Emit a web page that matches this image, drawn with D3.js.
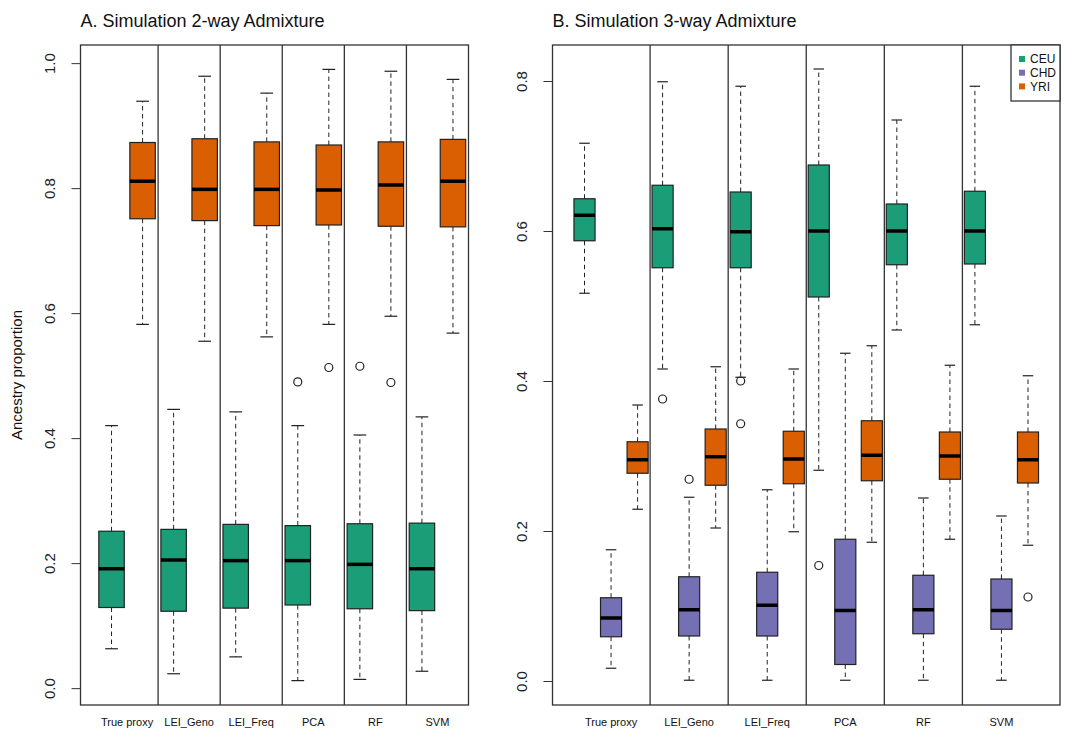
<!DOCTYPE html>
<html lang="en">
<head>
<meta charset="UTF-8">
<script src="https://d3js.org/d3.v7.min.js"></script>
<title>Ancestry proportion boxplots</title>
<style>
  body { margin: 0; background: #fff; }
  svg { display: block; font-family: "Liberation Sans", Arial, sans-serif; }
</style>
</head>
<body>
<svg width="1068" height="731"></svg>
<script>
// methods on the x axis (same for both panels)
var methods = ["True proxy", "LEI_Geno", "LEI_Freq", "PCA", "RF", "SVM"];
var yTicksA = [0, 0.2, 0.4, 0.6, 0.8, 1.0];
var yTicksB = [0, 0.2, 0.4, 0.6, 0.8];

// box stats: [lower whisker, Q1, median, Q3, upper whisker]
// panel A, 2-way admixture
var a_CEU = [
  [0.063, 0.129, 0.191, 0.251, 0.420],
  [0.023, 0.123, 0.205, 0.254, 0.446],
  [0.050, 0.128, 0.204, 0.262, 0.442],
  [0.012, 0.133, 0.204, 0.260, 0.420],
  [0.014, 0.127, 0.198, 0.263, 0.405],
  [0.027, 0.124, 0.191, 0.264, 0.434]
];
var a_YRI = [
  [0.582, 0.751, 0.811, 0.873, 0.939],
  [0.555, 0.748, 0.798, 0.879, 0.979],
  [0.562, 0.740, 0.798, 0.874, 0.952],
  [0.582, 0.741, 0.797, 0.869, 0.990],
  [0.595, 0.739, 0.805, 0.874, 0.987],
  [0.568, 0.738, 0.811, 0.878, 0.974]
];
var a_CEU_out = [[], [], [], [0.490], [0.515], []];
var a_YRI_out = [[], [], [], [0.513], [0.489], []];

// panel B, 3-way admixture
var b_CEU = [
  [0.517, 0.587, 0.621, 0.643, 0.717],
  [0.416, 0.551, 0.603, 0.661, 0.799],
  [0.405, 0.551, 0.599, 0.652, 0.793],
  [0.281, 0.512, 0.600, 0.688, 0.816],
  [0.468, 0.555, 0.600, 0.636, 0.748],
  [0.475, 0.556, 0.600, 0.653, 0.793]
];
var b_CHD = [
  [0.017, 0.059, 0.084, 0.111, 0.175],
  [0.001, 0.060, 0.095, 0.139, 0.245],
  [0.001, 0.060, 0.101, 0.145, 0.255],
  [0.001, 0.022, 0.094, 0.189, 0.437],
  [0.001, 0.063, 0.095, 0.141, 0.244],
  [0.001, 0.069, 0.094, 0.136, 0.220]
];
var b_YRI = [
  [0.229, 0.277, 0.295, 0.319, 0.368],
  [0.204, 0.261, 0.299, 0.336, 0.419],
  [0.199, 0.263, 0.296, 0.333, 0.416],
  [0.185, 0.267, 0.301, 0.347, 0.447],
  [0.189, 0.269, 0.300, 0.332, 0.421],
  [0.181, 0.264, 0.295, 0.332, 0.407]
];
var b_CEU_out = [[], [0.376], [0.400, 0.343], [0.154], [], []];
var b_CHD_out = [[], [0.269], [], [], [], []];
var b_YRI_out = [[], [], [], [], [], [0.112]];

var colors = { CEU: "#1b9e77", CHD: "#7570b3", YRI: "#d95f02" };

var svg = d3.select("svg");
svg.append("rect").attr("width", 1068).attr("height", 731).attr("fill", "#fff");

var plotTop = 45, plotBottom = 705;

var panels = [
  {
    title: "A. Simulation 2-way Admixture",
    left: 80.5, right: 468.5, xdom: [0.25, 6.5],
    ydom: [-0.027, 1.029], ticks: yTicksA,
    boxW: 0.41,
    series: [
      { name: "CEU", off: -0.25, stats: a_CEU, out: a_CEU_out },
      { name: "YRI", off: 0.25, stats: a_YRI, out: a_YRI_out }
    ]
  },
  {
    title: "B. Simulation 3-way Admixture",
    left: 552.5, right: 1060, xdom: [0.25, 6.75],
    ydom: [-0.032, 0.848], ticks: yTicksB,
    boxW: 0.27,
    series: [
      { name: "CEU", off: -0.34, stats: b_CEU, out: b_CEU_out },
      { name: "CHD", off: 0, stats: b_CHD, out: b_CHD_out },
      { name: "YRI", off: 0.34, stats: b_YRI, out: b_YRI_out }
    ]
  }
];

panels.forEach(function(p) {
  var x = d3.scaleLinear().domain(p.xdom).range([p.left, p.right]);
  var y = d3.scaleLinear().domain(p.ydom).range([plotBottom, plotTop]);
  var unit = x(1) - x(0);
  var g = svg.append("g");

  // title
  g.append("text")
    .attr("x", p.left).attr("y", 27)
    .attr("font-size", 18).attr("fill", "#111")
    .text(p.title);

  // y axis
  var ax = g.append("g")
    .attr("transform", "translate(" + p.left + ",0)")
    .call(d3.axisLeft(y).tickValues(p.ticks).tickSize(9).tickFormat(d3.format(".1f")));
  ax.select(".domain").remove();
  ax.selectAll(".tick line").attr("stroke", "#333");
  ax.selectAll(".tick text")
    .attr("x", 0).attr("y", 0).attr("dy", 0)
    .attr("transform", "translate(-26,0) rotate(-90)")
    .attr("text-anchor", "middle")
    .attr("font-size", 15).attr("fill", "#222")
    .style("font-family", "'Liberation Sans', Arial, sans-serif");

  // group separators
  g.selectAll(".sep")
    .data(d3.range(1, methods.length))
    .enter().append("line")
    .attr("x1", function(d) { return x(d + 0.5); })
    .attr("x2", function(d) { return x(d + 0.5); })
    .attr("y1", plotTop).attr("y2", plotBottom)
    .attr("stroke", "#333").attr("stroke-width", 1.3);

  // x labels
  g.selectAll(".xl")
    .data(methods)
    .enter().append("text")
    .attr("x", function(d, i) { return x(i + 1); })
    .attr("y", 726)
    .attr("text-anchor", "middle")
    .attr("font-size", 11).attr("fill", "#111")
    .text(function(d) { return d; });

  // boxes
  p.series.forEach(function(s) {
    var bw = p.boxW * unit;
    var sg = g.append("g");
    var grp = sg.selectAll("g")
      .data(s.stats)
      .enter().append("g")
      .attr("transform", function(d, i) { return "translate(" + x(i + 1 + s.off) + ",0)"; });

    // dashed whiskers
    grp.append("line")
      .attr("y1", function(d) { return y(d[3]); })
      .attr("y2", function(d) { return y(d[4]); })
      .attr("stroke", "#222").attr("stroke-dasharray", "4.5,3.5");
    grp.append("line")
      .attr("y1", function(d) { return y(d[1]); })
      .attr("y2", function(d) { return y(d[0]); })
      .attr("stroke", "#222").attr("stroke-dasharray", "4.5,3.5");
    // staples
    [0, 4].forEach(function(k) {
      grp.append("line")
        .attr("x1", -bw / 4).attr("x2", bw / 4)
        .attr("y1", function(d) { return y(d[k]); })
        .attr("y2", function(d) { return y(d[k]); })
        .attr("stroke", "#222").attr("stroke-width", 1.2);
    });
    // box
    grp.append("rect")
      .attr("x", -bw / 2).attr("width", bw)
      .attr("y", function(d) { return y(d[3]); })
      .attr("height", function(d) { return y(d[1]) - y(d[3]); })
      .attr("fill", colors[s.name])
      .attr("stroke", "#222").attr("stroke-width", 1.2);
    // median
    grp.append("line")
      .attr("x1", -bw / 2).attr("x2", bw / 2)
      .attr("y1", function(d) { return y(d[2]); })
      .attr("y2", function(d) { return y(d[2]); })
      .attr("stroke", "#000").attr("stroke-width", 3.5);

    // outliers
    var pts = [];
    s.out.forEach(function(arr, i) { arr.forEach(function(v) { pts.push({ i: i, v: v }); }); });
    sg.selectAll("circle")
      .data(pts)
      .enter().append("circle")
      .attr("cx", function(d) { return x(d.i + 1 + s.off); })
      .attr("cy", function(d) { return y(d.v); })
      .attr("r", 4)
      .attr("fill", "none").attr("stroke", "#222").attr("stroke-width", 1.2);
  });

  // frame
  g.append("rect")
    .attr("x", p.left).attr("y", plotTop)
    .attr("width", p.right - p.left).attr("height", plotBottom - plotTop)
    .attr("fill", "none").attr("stroke", "#333").attr("stroke-width", 1.3);
});

// y axis title
svg.append("text")
  .attr("transform", "translate(22," + ((plotTop + plotBottom) / 2) + ") rotate(-90)")
  .attr("text-anchor", "middle")
  .attr("font-size", 15).attr("fill", "#111")
  .text("Ancestry proportion");

// legend (panel B, top right)
var legendNames = ["CEU", "CHD", "YRI"];
var lg = svg.append("g");
lg.append("rect")
  .attr("x", 1011).attr("y", plotTop)
  .attr("width", 1060 - 1011).attr("height", 56)
  .attr("fill", "#fff").attr("stroke", "#333").attr("stroke-width", 1.3);
var li = lg.selectAll(".li")
  .data(legendNames)
  .enter().append("g")
  .attr("transform", function(d, i) { return "translate(1022," + (59 + i * 13.7) + ")"; });
li.append("rect")
  .attr("x", -3).attr("y", -3).attr("width", 6).attr("height", 6)
  .attr("fill", function(d) { return colors[d]; });
li.append("text")
  .attr("x", 8).attr("dy", "0.35em")
  .attr("font-size", 12).attr("fill", "#111")
  .text(function(d) { return d; });
</script>
</body>
</html>
